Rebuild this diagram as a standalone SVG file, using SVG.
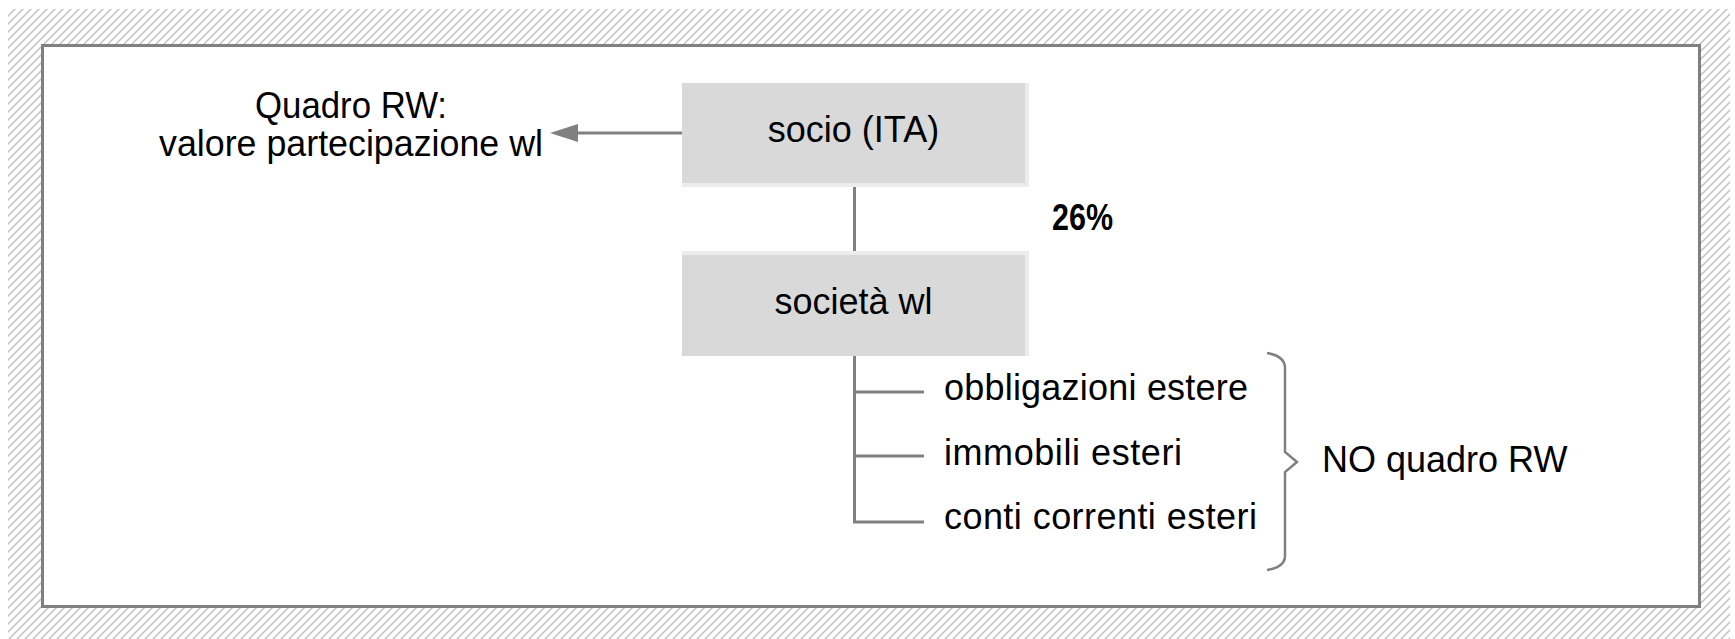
<svg xmlns="http://www.w3.org/2000/svg" width="1735" height="639" viewBox="0 0 1735 639">
  <defs>
    <pattern id="hatch" patternUnits="userSpaceOnUse" width="8" height="8">
      <path d="M-2,2 L2,-2 M0,8 L8,0 M6,10 L10,6" stroke="#c2c2c2" stroke-width="1.5"/>
    </pattern>
  </defs>
  <style>
    .t { font-family: "Liberation Sans", Arial, sans-serif; font-size: 36px; fill: #000; }
    .c { text-anchor: middle; }
    .shadow { fill: #ececec; }
    .box { fill: #d9d9d9; }
    .conn { stroke: #808080; stroke-width: 3; fill: none; }
    .head { fill: #808080; }
  </style>
  <rect x="8" y="9" width="1722" height="630" fill="url(#hatch)"/>
  <rect x="42.5" y="45.5" width="1657" height="561" fill="#ffffff" stroke="#808080" stroke-width="3"/>

  <g id="connectors">
    <line class="conn" x1="682" y1="133" x2="574" y2="133"/>
    <polygon class="head" points="550,133 578,124 578,142"/>
    <line class="conn" x1="854.5" y1="187" x2="854.5" y2="251"/>
    <path class="conn" d="M854.5,356 V522 H924 M854.5,392 H924 M854.5,456 H924"/>
    <path d="M1267,353 Q1285,356 1285,368 V452 L1297,462 L1285,472 V556 Q1285,567 1267,570" stroke="#808080" stroke-width="2.5" fill="none"/>
  </g>

  <g id="node-quadro">
    <text class="t c" x="351" y="118" font-size="34" textLength="192" lengthAdjust="spacingAndGlyphs">Quadro RW:</text>
    <text class="t c" x="351" y="156" font-size="34" textLength="384" lengthAdjust="spacingAndGlyphs">valore partecipazione wl</text>
  </g>

  <g id="node-socio">
    <rect class="shadow" x="682" y="83" width="347" height="104"/>
    <rect class="box" x="682" y="83" width="343" height="100"/>
    <text class="t c" x="853.5" y="142">socio (ITA)</text>
  </g>

  <g id="label-26">
    <text class="t" x="1052" y="230" font-weight="bold" textLength="61" lengthAdjust="spacingAndGlyphs">26%</text>
  </g>

  <g id="node-societa">
    <rect class="shadow" x="682" y="251" width="347" height="105"/>
    <rect class="box" x="682" y="255" width="343" height="101"/>
    <text class="t c" x="853.5" y="314">società wl</text>
  </g>

  <g id="node-obbligazioni">
    <text class="t" x="944" y="400" textLength="304">obbligazioni estere</text>
  </g>
  <g id="node-immobili">
    <text class="t" x="944" y="465" textLength="238">immobili esteri</text>
  </g>
  <g id="node-conti">
    <text class="t" x="944" y="529" textLength="313">conti correnti esteri</text>
  </g>
  <g id="node-no-quadro">
    <text class="t" x="1322" y="472">NO quadro RW</text>
  </g>
</svg>
